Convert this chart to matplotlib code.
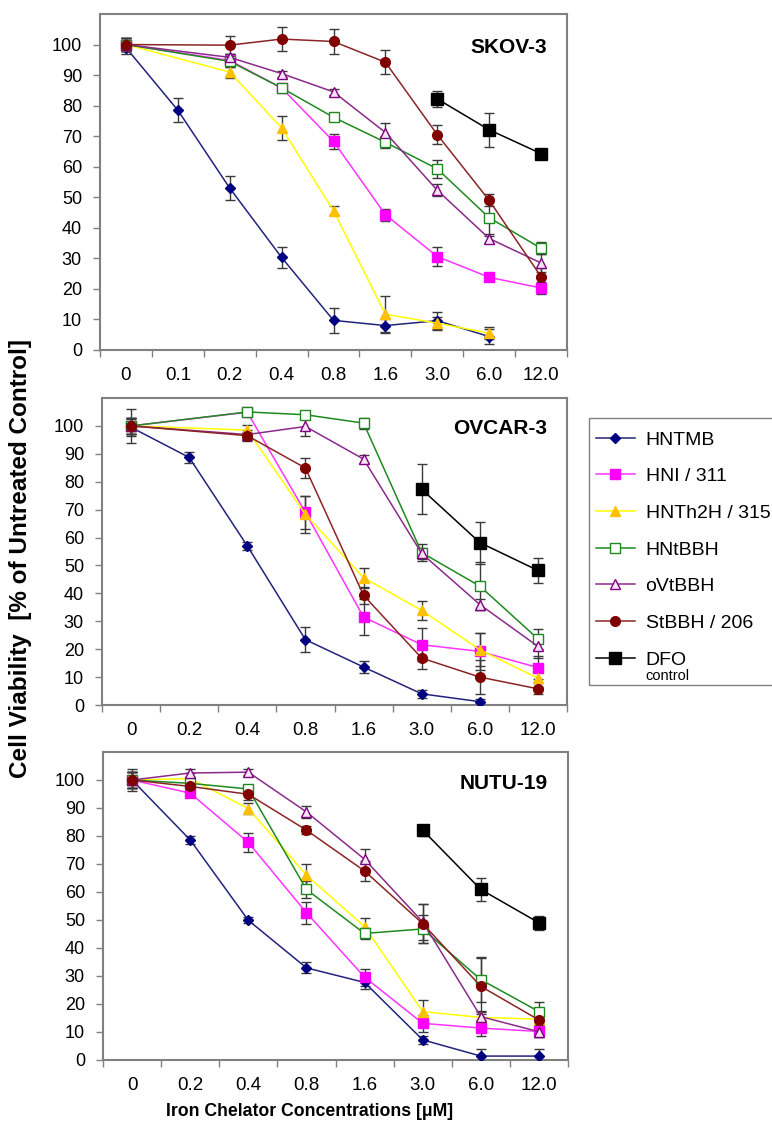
import numpy as np
import matplotlib
matplotlib.use("Agg")
import matplotlib.pyplot as plt
from matplotlib.patches import Rectangle

plt.rcParams['font.family'] = ['Liberation Sans', 'DejaVu Sans']

nan = np.nan

# ---------------- data ----------------
series_names = ["HNTMB", "HNI / 311", "HNTh2H / 315", "HNtBBH", "oVtBBH", "StBBH / 206", "DFO"]

skov_labels = ["0", "0.1", "0.2", "0.4", "0.8", "1.6", "3.0", "6.0", "12.0"]
skov_vals = [
    [99, 78.5, 53, 30.3, 9.7, 8.0, 9.6, 4.4, nan],
    [100, nan, 94.8, 85.8, 68.3, 44.3, 30.6, 23.8, 20.3],
    [100, nan, 91, 72.7, 45.6, 11.7, 8.8, 5.5, nan],
    [100, nan, 94.5, 85.8, 76.2, 68.0, 59.3, 43.3, 33.3],
    [100, nan, 95.8, 90.5, 84.5, 71.2, 52.3, 36.5, 28.5],
    [100, nan, 99.8, 101.8, 101.0, 94.2, 70.5, 49.0, 24.0],
    [nan, nan, nan, nan, nan, nan, 82.2, 72.1, 64.3],
]
skov_err = [
    [2, 4, 4, 3.5, 4, 2, 3, 2.5, nan],
    [2, nan, 2, 1, 2.5, 2, 3, 1, 2],
    [2, nan, 2, 4, 1.5, 6, 2, 2, nan],
    [2, nan, 2, 1, 1, 2, 3, 6, 2],
    [2, nan, 1, 1, 1, 3, 2, 1.5, 3],
    [2, nan, 3, 4, 4, 4, 3, 2, 3],
    [nan, nan, nan, nan, nan, nan, 2.5, 5.5, 1],
]

ovcar_labels = ["0", "0.2", "0.4", "0.8", "1.6", "3.0", "6.0", "12.0"]
ovcar_vals = [
    [99.5, 88.7, 57.0, 23.4, 13.6, 4.0, 1.2, nan],
    [100, nan, 104.9, 69.0, 31.5, 21.6, 19.2, 13.4],
    [100, nan, 98.5, 68.3, 45.6, 33.9, 19.8, 9.6],
    [100, nan, 105.0, 104.0, 101.0, 54.6, 42.6, 23.7],
    [100, nan, 96.9, 99.8, 88.1, 54.3, 36.0, 21.0],
    [100, nan, 96.5, 84.9, 39.3, 16.8, 10.0, 5.8],
    [nan, nan, nan, nan, nan, 77.3, 58.2, 48.2],
]
ovcar_err = [
    [3, 2, 1.5, 4.5, 2, 1.5, 1, nan],
    [6, nan, 1, 6, 6.5, 6, 6.5, 4],
    [3, nan, 2, 6.5, 3.5, 3.5, 6, 3],
    [3, nan, 1, 1, 2, 3, 8.5, 3.5],
    [3, nan, 1, 3.5, 1.5, 2, 2, 4],
    [3, nan, 2, 3.5, 3, 4, 6, 2],
    [nan, nan, nan, nan, nan, 9, 7.5, 4.5],
]

nutu_labels = ["0", "0.2", "0.4", "0.8", "1.6", "3.0", "6.0", "12.0"]
nutu_vals = [
    [100, 78.6, 49.9, 32.9, 27.7, 7.2, 1.4, 1.4],
    [100, 95.3, 77.7, 52.6, 29.6, 13.1, 11.4, 10.2],
    [100, 100.5, 89.8, 66.0, 47.6, 17.3, 15.2, 14.6],
    [100, 98.8, 96.8, 60.9, 45.2, 46.8, 28.7, 17.3],
    [100, 102.5, 102.8, 88.6, 71.7, 49.3, 15.5, 10.1],
    [100, 97.7, 94.9, 82.1, 67.5, 48.7, 26.3, 14.3],
    [nan, nan, nan, nan, nan, 82.1, 60.9, 49.0],
]
nutu_err = [
    [4, 1.5, 1, 2, 2.5, 1.5, 2.5, 2.5],
    [3, 1.5, 3.5, 4, 3, 3, 3, 2],
    [3, 2, 2, 4, 3, 4, 2, 2],
    [3, 2, 1.5, 3, 2, 5, 8, 3.5],
    [3, 1.5, 1, 2, 3.5, 6.5, 2, 2],
    [3, 1.5, 2, 1.5, 3.5, 7, 10, 3],
    [nan, nan, nan, nan, nan, 2, 4, 2.5],
]

panel_titles = ["SKOV-3", "OVCAR-3", "NUTU-19"]

# ---------------- styles ----------------
styles = [
    dict(color="#23237d", marker="D", mfc="#000080", mec="#000080", ms=5.5),
    dict(color="#ff33ff", marker="s", mfc="#ff00ff", mec="#ff00ff", ms=6.5),
    dict(color="#ffff00", marker="^", mfc="#ffc000", mec="#ffc000", ms=7),
    dict(color="#1e8a1e", marker="s", mfc="white", mec="#1e8a1e", ms=6.5),
    dict(color="#8a2a8a", marker="^", mfc="#f4e4f4", mec="#800080", ms=7),
    dict(color="#8b2525", marker="o", mfc="#800000", mec="#800000", ms=7),
    dict(color="#000000", marker="s", mfc="#000000", mec="#000000", ms=8.5),
]

W, H = 772, 1123
fig = plt.figure(figsize=(W / 100, H / 100), dpi=100)


def frac(left, top, right, bottom):
    return [left / W, 1 - bottom / H, (right - left) / W, (bottom - top) / H]


axes_rects = [frac(100, 14, 567, 350), frac(102, 398, 567, 705), frac(103, 752, 568, 1060)]
panels = [
    (skov_labels, skov_vals, skov_err),
    (ovcar_labels, ovcar_vals, ovcar_err),
    (nutu_labels, nutu_vals, nutu_err),
]

handles = []
for pi, (rect, (labels, vals, errs)) in enumerate(zip(axes_rects, panels)):
    ax = fig.add_axes(rect)
    n = len(labels)
    x = np.arange(n)
    for si, (v, e) in enumerate(zip(vals, errs)):
        v = np.asarray(v, float)
        e = np.asarray(e, float)
        m = ~np.isnan(v)
        st = styles[si]
        ax.errorbar(x[m], v[m], yerr=e[m], fmt="none", ecolor="#3a3a3a",
                    elinewidth=1.0, capsize=3.5, capthick=1.0, zorder=2 + si * 0.1)
        ln, = ax.plot(x[m], v[m], color=st["color"], lw=1.1, marker=st["marker"],
                      ms=st["ms"], mfc=st["mfc"], mec=st["mec"], mew=1.0,
                      zorder=3 + si * 0.1, label=series_names[si])
        if pi == 0:
            handles.append(ln)
    ax.set_xlim(-0.5, n - 0.5)
    ax.set_ylim(0, 110)
    ax.set_yticks(np.arange(0, 101, 10))
    ax.set_xticks(np.arange(-0.5, n, 1.0))
    ax.set_xticklabels([])
    ax.set_xticks(x, minor=True)
    ax.set_xticklabels(labels, minor=True)
    ax.tick_params(axis="x", which="major", direction="out", length=5, width=1, color="#808080")
    ax.tick_params(axis="x", which="minor", length=0, pad=12, labelsize=13.5)
    ax.tick_params(axis="y", direction="out", length=5, width=1, color="#808080",
                   labelsize=13, pad=8)
    for sp in ax.spines.values():
        sp.set_color("#808080")
        sp.set_linewidth(1.5)
    ax.text(0.957, 0.93, panel_titles[pi], transform=ax.transAxes, ha="right", va="top",
            fontsize=15, fontweight="bold")

fig.text(21 / W, 1 - 558 / H, "Cell Viability  [% of Untreated Control]", rotation=90,
         ha="center", va="center", fontsize=17.5, fontweight="bold")
fig.text(310 / W, 1 - 1112 / H, "Iron Chelator Concentrations [\u03bcM]", ha="center",
         va="center", fontsize=12.7, fontweight="bold")

leg = fig.legend(handles, series_names, loc="upper left",
                 bbox_to_anchor=(596 / W, 1 - 431 / H), bbox_transform=fig.transFigure,
                 frameon=False, fontsize=14, numpoints=1, handlelength=2.0,
                 handletextpad=0.55, labelspacing=0.98, borderpad=0, borderaxespad=0)
fig.text(645 / W, 1 - 676 / H, "control", ha="left", va="center", fontsize=10.5)
fig.patches.append(Rectangle((589 / W, 1 - 685 / H), 200 / W, 267 / H,
                             transform=fig.transFigure, fill=False,
                             edgecolor="#808080", lw=1.0, clip_on=False))

fig.savefig("out.png", dpi=100)
